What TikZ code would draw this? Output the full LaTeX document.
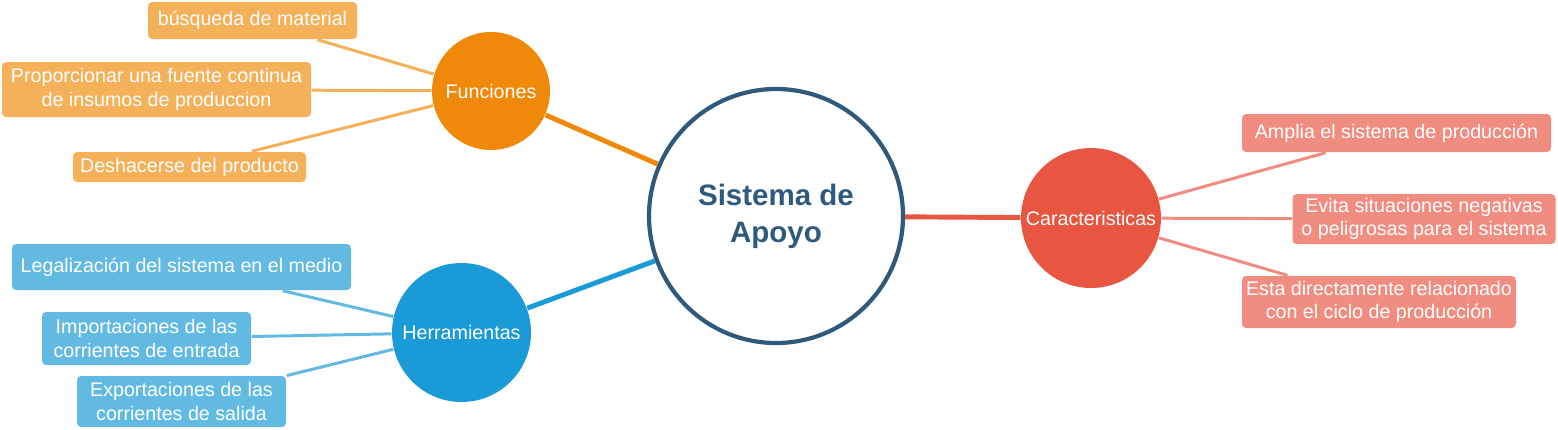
\documentclass[tikz,border=0pt]{standalone}
\usepackage{fontspec}
\setmainfont{Liberation Sans}
\usepackage{xcolor}

\definecolor{navy}{HTML}{2E5A7E}
\definecolor{func}{HTML}{F0890A}
\definecolor{funcl}{HTML}{F5B05A}
\definecolor{herr}{HTML}{1A9AD6}
\definecolor{herrl}{HTML}{62BAE2}
\definecolor{cara}{HTML}{E85642}
\definecolor{caral}{HTML}{F08C80}

\begin{document}
\begin{tikzpicture}[
  hub/.style={circle, draw=navy, line width=1.2pt, fill=white, minimum size=2.54cm, align=center, text=navy, font=\fontsize{8.4}{10.5}\selectfont\bfseries},
  topic/.style={circle, minimum size=#1, inner sep=0pt, align=center, text=white, font=\fontsize{5.6}{6.7}\selectfont},
  leaf/.style={rectangle, rounded corners=1.2pt, inner sep=1pt, align=center, text=white, font=\fontsize{5.6}{6.7}\selectfont},
  link/.style={line width=1.4pt},
  twig/.style={line width=0.85pt}
]
  \useasboundingbox (0,0) rectangle (15.58,4.29);
  % Centre
  \node[hub] (apoyo) at (7.76,2.13) {Sistema de\\Apoyo};
  % Funciones branch
  \node[topic=1.18cm, fill=func] (fun) at (4.91,3.38) {Funciones};
  \node[leaf, fill=funcl, minimum width=2.09cm, minimum height=0.37cm] (busq) at (2.525,4.085) {búsqueda de material};
  \node[leaf, fill=funcl, minimum width=3.09cm, minimum height=0.55cm] (fuente) at (1.565,3.395) {Proporcionar una fuente continua\\de insumos de produccion};
  \node[leaf, fill=funcl, minimum width=2.33cm, minimum height=0.30cm] (desh) at (1.895,2.62) {Deshacerse del producto};
  % Herramientas branch
  \node[topic=1.39cm, fill=herr] (her) at (4.615,0.965) {Herramientas};
  \node[leaf, fill=herrl, minimum width=3.39cm, minimum height=0.46cm] (legal) at (1.815,1.62) {Legalización del sistema en el medio};
  \node[leaf, fill=herrl, minimum width=2.09cm, minimum height=0.53cm] (impo) at (1.465,0.905) {Importaciones de las\\corrientes de entrada};
  \node[leaf, fill=herrl, minimum width=2.09cm, minimum height=0.51cm] (expo) at (1.815,0.275) {Exportaciones de las\\corrientes de salida};
  % Caracteristicas branch
  \node[topic=1.40cm, fill=cara] (car) at (10.91,2.11) {Caracteristicas};
  \node[leaf, fill=caral, minimum width=3.09cm, minimum height=0.38cm] (ampl) at (13.965,2.96) {Amplia el sistema de producción};
  \node[leaf, fill=caral, minimum width=2.63cm, minimum height=0.50cm] (evita) at (14.24,2.10) {Evita situaciones negativas\\o peligrosas para el sistema};
  \node[leaf, fill=caral, minimum width=2.74cm, minimum height=0.52cm] (ciclo) at (13.79,1.27) {Esta directamente relacionado\\con el ciclo de producción};
  % Links
  \draw[link, func] (apoyo) -- (fun);
  \draw[link, herr] (apoyo) -- (her);
  \draw[link, cara] (apoyo) -- (car);
  \draw[twig, funcl] (fun) -- (busq);
  \draw[twig, funcl] (fun) -- (fuente);
  \draw[twig, funcl] (fun) -- (desh);
  \draw[twig, herrl] (her) -- (legal);
  \draw[twig, herrl] (her) -- (impo);
  \draw[twig, herrl] (her) -- (expo);
  \draw[twig, caral] (car) -- (ampl);
  \draw[twig, caral] (car) -- (evita);
  \draw[twig, caral] (car) -- (ciclo);
\end{tikzpicture}
\end{document}
